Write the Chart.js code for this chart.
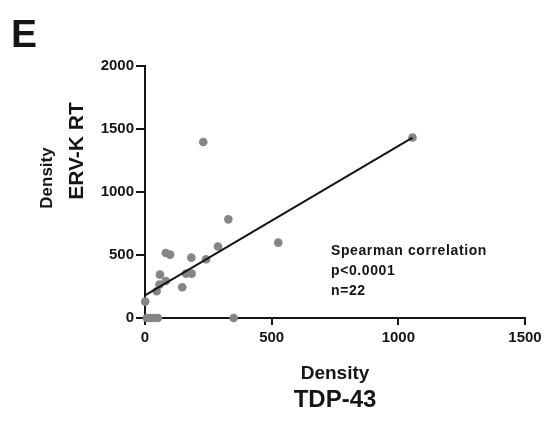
<!DOCTYPE html>
<html>
<head>
<meta charset="utf-8">
<script src="https://cdn.jsdelivr.net/npm/chart.js@4"></script>
<style>
  html, body { margin: 0; padding: 0; background: #ffffff; }
  #wrap { width: 555px; height: 423px; position: relative; }
</style>
</head>
<body>
<div id="wrap"><canvas id="c" width="555" height="423"></canvas></div>
<script>
// TDP-43 density (x) vs ERV-K RT density (y), one point per sample
const tdp43Density = [1056, 230, 329, 526, 288, 82, 99, 183, 241, 59, 162, 184, 82, 57, 147, 46, 1, 350, 7, 22, 33, 51];
const ervkDensity  = [1432, 1397, 783, 598, 567, 516, 503, 479, 466, 344, 352, 352, 294, 265, 244, 212, 130, 0, 0, 0, 0, 0];

// fitted trend line endpoints
const fitX = [0, 1056];
const fitY = [180, 1432];

// axis ticks
const xTicks = [0, 500, 1000, 1500];
const yTicks = [0, 500, 1000, 1500, 2000];

const statLines = ['Spearman correlation', 'p<0.0001', 'n=22'];

const FONT = '"Liberation Sans", Arial, sans-serif';
const INK = '#151515';

const points = tdp43Density.map((x, i) => ({ x, y: ervkDensity[i] }));
const fitLine = fitX.map((x, i) => ({ x, y: fitY[i] }));

const labelsPlugin = {
  id: 'panelLabels',
  afterDraw(chart) {
    const ctx = chart.ctx;
    ctx.save();
    ctx.fillStyle = INK;
    ctx.textAlign = 'left';
    ctx.textBaseline = 'alphabetic';

    // panel letter
    ctx.font = 'bold 39px ' + FONT;
    ctx.fillText('E', 11, 47);

    // x-axis title
    const cx = (chart.chartArea.left + chart.chartArea.right) / 2;
    ctx.textAlign = 'center';
    ctx.font = 'bold 19px ' + FONT;
    ctx.fillText('Density', cx, 379);
    ctx.font = 'bold 24px ' + FONT;
    ctx.fillText('TDP-43', cx, 407);

    // y-axis title (rotated)
    ctx.save();
    ctx.translate(52, 178);
    ctx.rotate(-Math.PI / 2);
    ctx.font = 'bold 17px ' + FONT;
    ctx.fillText('Density', 0, 0);
    ctx.restore();
    ctx.save();
    ctx.translate(83, 151);
    ctx.rotate(-Math.PI / 2);
    ctx.font = 'bold 21px ' + FONT;
    ctx.fillText('ERV-K RT', 0, 0);
    ctx.restore();

    // statistics annotation
    ctx.textAlign = 'left';
    ctx.font = 'bold 14px ' + FONT;
    if ('letterSpacing' in ctx) ctx.letterSpacing = '0.6px';
    statLines.forEach((t, i) => ctx.fillText(t, 331, 255 + i * 20));
    ctx.restore();
  }
};

new Chart(document.getElementById('c'), {
  type: 'scatter',
  data: {
    datasets: [
      {
        type: 'line',
        data: fitLine,
        borderColor: INK,
        borderWidth: 2,
        pointRadius: 0,
        fill: false,
        tension: 0,
        clip: false
      },
      {
        data: points,
        backgroundColor: '#858585',
        borderColor: '#858585',
        borderWidth: 0,
        pointRadius: 4.3,
        clip: false
      }
    ]
  },
  options: {
    responsive: false,
    animation: false,
    devicePixelRatio: 1,
    layout: { padding: { left: 0, top: 66, right: 30, bottom: 0 } },
    plugins: { legend: { display: false }, tooltip: { enabled: false } },
    scales: {
      x: {
        type: 'linear',
        min: 0, max: 1500,
        afterBuildTicks: s => { s.ticks = xTicks.map(v => ({ value: v })); },
        afterFit: s => { s.height = 105; },
        border: { color: INK, width: 2 },
        grid: { drawOnChartArea: false, color: INK, lineWidth: 2, tickLength: 7 },
        ticks: { color: INK, padding: 4, font: { family: FONT, size: 15, weight: 'bold' }, maxRotation: 0, callback: v => String(v) }
      },
      y: {
        type: 'linear',
        min: 0, max: 2000,
        afterBuildTicks: s => { s.ticks = yTicks.map(v => ({ value: v })); },
        afterFit: s => { s.width = 145; },
        border: { color: INK, width: 2 },
        grid: { drawOnChartArea: false, color: INK, lineWidth: 2, tickLength: 9 },
        ticks: { color: INK, padding: 2, font: { family: FONT, size: 15, weight: 'bold' }, callback: v => String(v) }
      }
    }
  },
  plugins: [labelsPlugin]
});
</script>
</body>
</html>
